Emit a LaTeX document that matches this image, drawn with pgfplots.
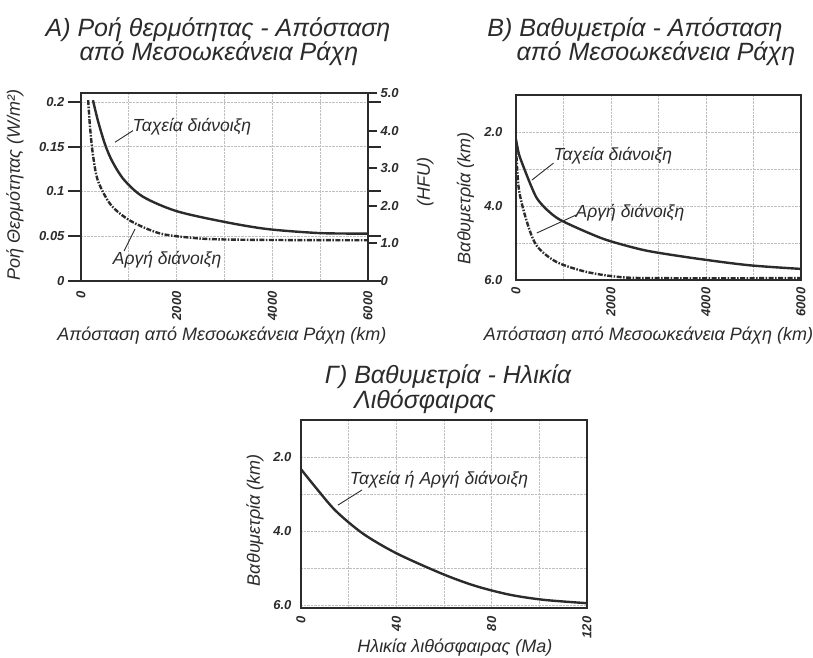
\documentclass[border=0pt]{standalone}
\usepackage{fontspec}
\setmainfont{Liberation Sans}
\usepackage{pgfplots}
\pgfplotsset{compat=1.18}
\definecolor{ink}{HTML}{2B2B2B}
\tikzset{
  ann/.style={font=\fontsize{17.5}{17.5}\selectfont\itshape, text=ink},
  lead/.style={ink, line width=0.9pt},
  ttl/.style={anchor=base, font=\fontsize{25}{25}\selectfont\itshape, text=ink},
}
\pgfplotsset{
  base/.style={
    scale only axis,
    axis line style={line width=2.2pt, draw=ink},
    grid style={densely dotted, draw=gray!50, line width=0.7pt},
    tick label style={font=\fontsize{13}{13}\selectfont\bfseries\itshape, text=ink},
    label style={font=\fontsize{18}{18}\selectfont\itshape, text=ink},
    xticklabel style={rotate=90, anchor=east},
    grid=both,
  },
  fast/.style={ink, line width=2.4pt, smooth, tension=0.5},
  slow/.style={ink, line width=2.4pt, smooth, tension=0.5, dash pattern=on 5pt off 1.5pt on 1.5pt off 1.5pt},
}
\begin{document}
\begin{tikzpicture}[x=1pt,y=1pt]
\useasboundingbox (0,0) rectangle (813,657);
% Titles
\node[ttl] at (218,620) {A) Ροή θερμότητας - Απόσταση};
\node[ttl] at (219,596) {από Μεσοωκεάνεια Ράχη};
\node[ttl] at (635,620) {B) Βαθυμετρία - Απόσταση};
\node[ttl] at (656,596) {από Μεσοωκεάνεια Ράχη};
\node[ttl] at (448,274) {Γ) Βαθυμετρία - Ηλικία};
\node[ttl] at (425,249) {Λιθόσφαιρας};

% ---------------- Panel A ----------------
\begin{axis}[base,
  at={(81pt,376pt)}, anchor=south west,
  width=287pt, height=188pt,
  xmin=0, xmax=6000, ymin=0, ymax=0.21,
  xtick={0,2000,4000,6000}, xticklabels={0,2000,4000,6000},
  minor xtick={1000,3000,5000},
  ytick={0,0.05,0.1,0.15,0.2}, yticklabels={0,0.05,0.1,0.15,0.2},
  tick align=outside, major tick length=13pt,
  xtick style={draw=none}, minor tick length=0pt,
  ytick style={line width=2pt, draw=ink},
  xticklabel style={xshift=6pt},
  xlabel={Απόσταση από Μεσοωκεάνεια Ράχη (km)},
  xlabel style={at={(axis description cs:0.491,-0.29)}, anchor=center},
  ylabel={Ροή Θερμότητας (W/m²)},
  ylabel style={at={(axis description cs:-0.23,0.511)}, anchor=center, rotate=0},
]
\addplot[fast] coordinates {(250,0.202) (354,0.179) (500,0.153) (650,0.134) (900,0.113) (1300,0.094) (2000,0.078) (3000,0.066) (3900,0.058) (5000,0.0535) (6000,0.053)};
\addplot[slow] coordinates {(150,0.202) (190,0.171) (250,0.141) (354,0.112) (625,0.085) (1040,0.067) (1660,0.053) (2370,0.048) (2900,0.0465) (4000,0.0458) (6000,0.0455)};
\node[ann] at (axis cs:2320,0.1725) {Ταχεία διάνοιξη};
\draw[lead] (axis cs:711,0.155) -- (axis cs:1087,0.168);
\node[ann] at (axis cs:1800,0.0235) {Αργή διάνοιξη};
\draw[lead] (axis cs:1130,0.058) -- (axis cs:900,0.0335);
\end{axis}
\begin{axis}[base, grid=none,
  at={(81pt,376pt)}, anchor=south west,
  width=287pt, height=188pt,
  xmin=0, xmax=6000, ymin=0, ymax=5,
  axis x line=none, axis y line*=right,
  ytick={0,1,2,3,4,5}, yticklabels={0,1.0,2.0,3.0,4.0,5.0},
  tick align=outside, major tick length=9pt,
  ytick style={line width=2pt, draw=ink},
  ylabel={(HFU)},
  ylabel style={at={(axis description cs:1.199,0.527)}, anchor=center, rotate=0},
]
\end{axis}

% ---------------- Panel B ----------------
\begin{axis}[base,
  at={(516pt,377pt)}, anchor=south west,
  width=285pt, height=185pt,
  xmin=0, xmax=6000, ymin=1, ymax=6, y dir=reverse,
  xtick={0,2000,4000,6000}, xticklabels={0,2000,4000,6000},
  minor xtick={1000,3000,5000},
  ytick={2,4,6}, yticklabels={2.0,4.0,6.0},
  minor ytick={1,3,5},
  tick style={draw=none}, major tick length=0pt, minor tick length=0pt,
  yticklabel style={xshift=-10pt},
  xticklabel style={xshift=-4pt},
  xlabel={Απόσταση από Μεσοωκεάνεια Ράχη (km)},
  xlabel style={at={(axis description cs:0.465,-0.3)}, anchor=center},
  ylabel={Βαθυμετρία (km)},
  ylabel style={at={(axis description cs:-0.177,0.443)}, anchor=center, rotate=0},
]
\addplot[fast] coordinates {(0,2.2) (62,2.6) (167,2.97) (306,3.42) (444,3.8) (650,4.1) (896,4.35) (1300,4.6) (1800,4.87) (2200,5.03) (2800,5.22) (3800,5.42) (4900,5.6) (6000,5.7)};
\addplot[slow] coordinates {(0,2.4) (60,3.54) (230,4.43) (440,5.08) (850,5.51) (1480,5.78) (2190,5.92) (3000,5.95) (6000,5.95)};
\node[ann] at (axis cs:2040,2.65) {Ταχεία διάνοιξη};
\draw[lead] (axis cs:333,3.3) -- (axis cs:790,2.84);
\node[ann] at (axis cs:2400,4.17) {Αργή διάνοιξη};
\draw[lead] (axis cs:437,4.73) -- (axis cs:1270,4.24);
\end{axis}

% ---------------- Panel C ----------------
\begin{axis}[base,
  at={(301pt,49pt)}, anchor=south west,
  width=286pt, height=188pt,
  xmin=0, xmax=120, ymin=1, ymax=6.08, y dir=reverse,
  xtick={0,40,80,120}, xticklabels={0,40,80,120},
  minor xtick={20,60,100},
  ytick={2,4,6}, yticklabels={2.0,4.0,6.0},
  minor ytick={3,5},
  tick style={draw=none}, major tick length=0pt, minor tick length=0pt,
  yticklabel style={xshift=-6pt},
  xticklabel style={xshift=-5pt},
  xlabel={Ηλικία λιθόσφαιρας (Ma)},
  xlabel style={at={(axis description cs:0.538,-0.212)}, anchor=center},
  ylabel={Βαθυμετρία (km)},
  ylabel style={at={(axis description cs:-0.161,0.468)}, anchor=center, rotate=0},
]
\addplot[fast] coordinates {(0,2.33) (6,2.81) (14.5,3.45) (26,4.07) (40,4.6) (59,5.15) (73,5.48) (87.5,5.72) (102,5.86) (120,5.95)};
\node[ann] at (axis cs:57.9,2.62) {Ταχεία ή Αργή διάνοιξη};
\draw[lead] (axis cs:15.5,3.3) -- (axis cs:25.6,2.89);
\end{axis}
\end{tikzpicture}
\end{document}
